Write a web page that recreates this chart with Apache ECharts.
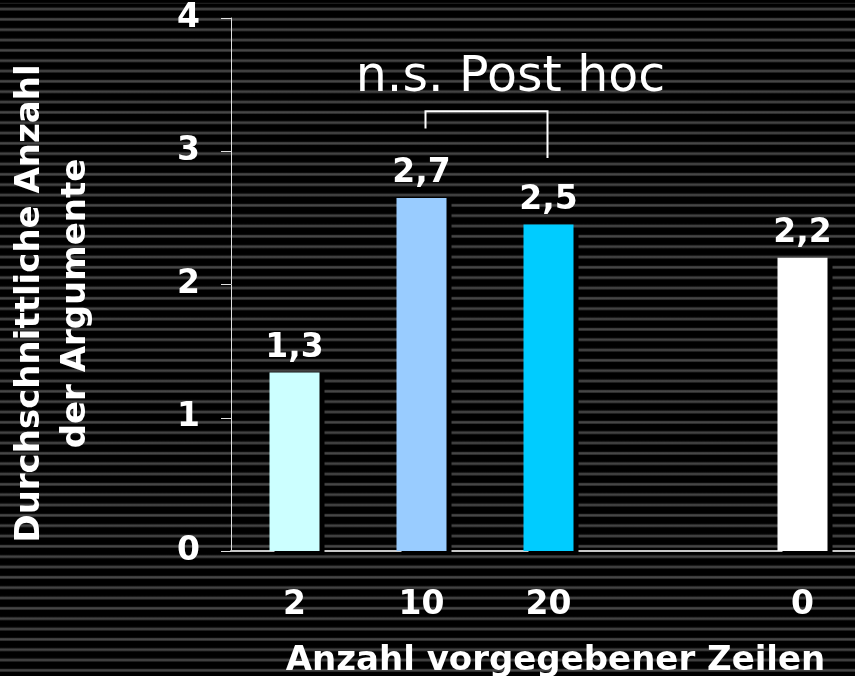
<!DOCTYPE html>
<html>
<head>
<meta charset="utf-8">
<script src="https://cdn.jsdelivr.net/npm/echarts@6/dist/echarts.min.js"></script>
<style>
  html, body { margin: 0; padding: 0; background: #000; }
  #main {
    width: 855px; height: 676px;
    background-color: #000;
    background-image: repeating-linear-gradient(to bottom,
      #000 0px, #000 3.2px, #383838 4.2px, #4a4a4a 5.2px, #383838 6.2px, #000 7.2px, #000 10.333px);
    background-position: 0 3.8px;
  }
</style>
</head>
<body>
<div id="main"></div>
<script>
// Werte aus der Vorlage
var categories = ['2', '10', '20', '', '0'];
var values = [1.34, 2.65, 2.45, null, 2.2];
var valueLabels = ['1,3', '2,7', '2,5', '', '2,2'];
var barColors = ['#ccffff', '#99ccff', '#00ccff', '#000000', '#ffffff'];
var yTicks = [0, 1, 2, 3, 4];

(function () {
    var myChart = echarts.init(document.getElementById('main'));
    var boldFont = 'DejaVu Sans';

    var option = {
        backgroundColor: 'transparent',
        animation: false,
        grid: {
            left: 231,
            top: 18,
            width: 635,
            height: 533,
            containLabel: false,
            outerBoundsMode: 'none'
        },
        xAxis: {
            type: 'category',
            data: categories,
            name: 'Anzahl vorgegebener Zeilen',
            nameLocation: 'middle',
            nameGap: 93,
            nameTextStyle: {
                color: '#fff',
                fontFamily: boldFont,
                fontWeight: 'bold',
                fontSize: 34,
                padding: [0, 0, 0, 14]
            },
            axisLine: { lineStyle: { color: '#c8c8c8', width: 2 } },
            axisTick: { length: 10, lineStyle: { color: '#e0e0e0', width: 1 } },
            axisLabel: {
                color: '#fff',
                fontFamily: boldFont,
                fontWeight: 'bold',
                fontSize: 33,
                margin: 38
            }
        },
        yAxis: {
            type: 'value',
            min: yTicks[0],
            max: yTicks[yTicks.length - 1],
            interval: 1,
            name: 'Durchschnittliche Anzahl\nder Argumente',
            nameLocation: 'middle',
            nameRotate: 90,
            nameGap: 132,
            nameTextStyle: {
                color: '#fff',
                fontFamily: boldFont,
                fontWeight: 'bold',
                fontSize: 34,
                lineHeight: 46,
                padding: [0, 38, 0, 0]
            },
            splitLine: { show: false },
            axisLine: { show: true, lineStyle: { color: '#e0e0e0', width: 1 } },
            axisTick: { show: true, length: 10, lineStyle: { color: '#e0e0e0', width: 1 } },
            axisLabel: {
                color: '#fff',
                fontFamily: boldFont,
                fontWeight: 'bold',
                fontSize: 33,
                margin: 31
            }
        },
        series: [
            {
                type: 'bar',
                barWidth: 50,
                data: values.map(function (v, i) {
                    return {
                        value: v,
                        itemStyle: { color: barColors[i] }
                    };
                }),
                itemStyle: {
                    shadowColor: '#000',
                    shadowBlur: 0,
                    shadowOffsetX: 5,
                    shadowOffsetY: 4
                },
                label: {
                    show: true,
                    position: 'top',
                    distance: 8,
                    color: '#fff',
                    fontFamily: boldFont,
                    fontWeight: 'bold',
                    fontSize: 33,
                    formatter: function (p) { return valueLabels[p.dataIndex]; }
                }
            }
        ]
    };

    myChart.setOption(option);

    // Klammer und Beschriftung "n.s. Post hoc"
    var pLeftTop = myChart.convertToPixel({ gridIndex: 0 }, [1, 3.3]);
    var pLeftBot = myChart.convertToPixel({ gridIndex: 0 }, [1, 3.17]);
    var pRightTop = myChart.convertToPixel({ gridIndex: 0 }, [2, 3.3]);
    var pRightBot = myChart.convertToPixel({ gridIndex: 0 }, [2, 2.95]);
    var xl = pLeftTop[0] + 4;
    var xr = pRightTop[0] - 1;

    myChart.setOption({
        graphic: [
            {
                type: 'polyline',
                shape: {
                    points: [[xl, pLeftBot[1]], [xl, pLeftTop[1]], [xr, pRightTop[1]], [xr, pRightBot[1]]]
                },
                style: { stroke: '#fff', lineWidth: 2, fill: null }
            },
            {
                type: 'text',
                x: (xl + xr) / 2 + 24,
                y: 78,
                style: {
                    text: 'n.s. Post hoc',
                    fill: '#fff',
                    fontFamily: 'DejaVu Sans',
                    fontSize: 49,
                    align: 'center',
                    verticalAlign: 'middle'
                }
            }
        ]
    });

    window.addEventListener('resize', function () {
        myChart.resize();
    });
})();
</script>
</body>
</html>
